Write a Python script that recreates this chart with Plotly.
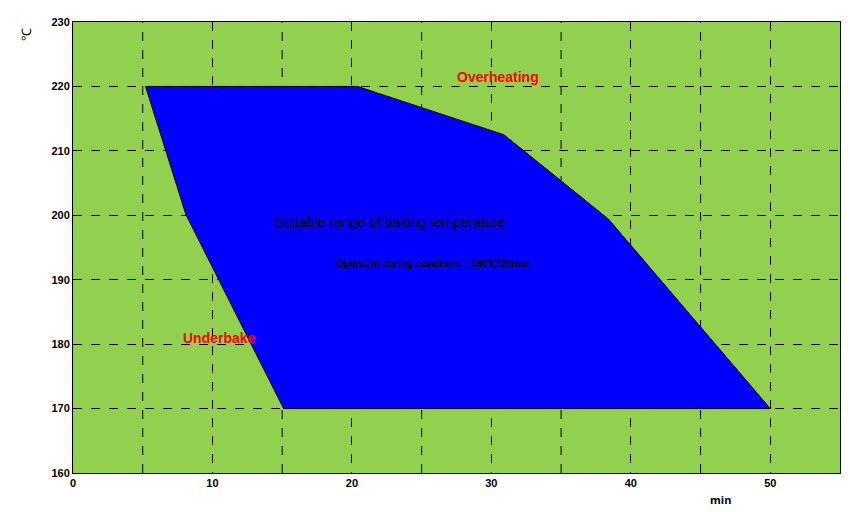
import plotly.graph_objects as go

region_x = [5.2, 20.4, 30.9, 38.4, 50.0, 15.1, 8.1, 5.2]
region_y = [220, 220, 212.5, 199.4, 170, 170, 200.1, 220]

fig = go.Figure()
fig.add_trace(go.Scatter(x=region_x, y=region_y, fill="toself", fillcolor="#0000FF",
                         mode="lines", line=dict(color="#000000", width=1), hoverinfo="skip"))

annots = [
    dict(x=30.5, y=221.5, text="Overheating", color="#FF0000", size=14, bold=True),
    dict(x=10.5, y=181, text="Underbake", color="#FF0000", size=14, bold=True),
    dict(x=22.8, y=199, text="Suitable range of baking temperature", color="#000000", size=14, bold=False),
    dict(x=25.8, y=192.5, text="Optimum curing condition：180℃*20min", color="#000000", size=10, bold=True),
]
for a in annots:
    fig.add_annotation(x=a["x"], y=a["y"], text=("<b>%s</b>" % a["text"]) if a["bold"] else a["text"],
                       showarrow=False, font=dict(color=a["color"], size=a["size"], family="Liberation Sans"))

fig.add_annotation(xref="paper", yref="paper", x=0.86, y=-0.08, text="<b>min</b>", showarrow=False,
                   font=dict(size=11, color="#000"))
fig.add_annotation(xref="paper", yref="paper", x=-0.075, y=0.99, text="℃", textangle=-90, showarrow=False,
                   font=dict(size=13, color="#000"))

axis = dict(showgrid=True, gridcolor="#000", griddash="dash", gridwidth=1, zeroline=False,
            showline=True, linecolor="#000", linewidth=1, mirror=True, ticks="",
            tickfont=dict(size=11, color="#000", family="Liberation Sans"))
fig.update_xaxes(range=[0, 55], dtick=5, tickvals=[0, 10, 20, 30, 40, 50],
                 **{k: v for k, v in axis.items()})
fig.update_yaxes(range=[160, 230], dtick=10, **axis)
# vertical grid every 5
for xv in [5, 15, 25, 35, 45]:
    fig.add_shape(type="line", x0=xv, x1=xv, y0=160, y1=230, line=dict(color="#000", width=1, dash="dash"), layer="below")
fig.update_layout(width=850, height=512, plot_bgcolor="#92D050", paper_bgcolor="#FFFFFF",
                  margin=dict(l=65, r=18, t=8, b=47), showlegend=False,
                  xaxis_tickfont_weight="bold", yaxis_tickfont_weight="bold")
fig.update_layout(xaxis_layer="above traces", yaxis_layer="above traces")
fig.write_html("out.html")
